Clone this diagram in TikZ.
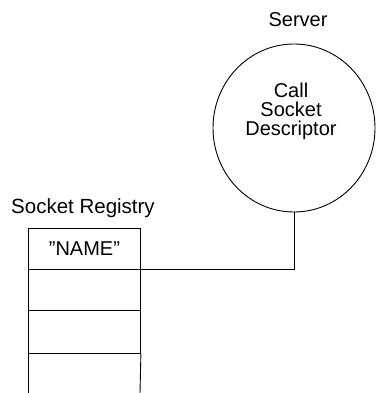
\documentclass[tikz,border=0pt]{standalone}
\usepackage{fontspec}
\setmainfont{Liberation Sans}
\usetikzlibrary{shapes.geometric}
\begin{document}
\begin{tikzpicture}[x=1pt,y=-1pt,line width=0.9pt,
  lbl/.style={font=\fontsize{20}{20}\selectfont,inner sep=0pt},
  rowbox/.style={draw,minimum width=112pt,minimum height=41pt,inner sep=0pt,anchor=north west,font=\fontsize{20}{20}\selectfont},
  srvshape/.style={draw,ellipse,minimum width=162pt,minimum height=168pt,inner sep=0pt}]
\useasboundingbox (0,0) rectangle (375,393);
\node[lbl] (srvlbl) at (298,20) {Server};
\node[srvshape] (srv) at (294,128) {};
\node[lbl,align=center,font=\fontsize{20}{19}\selectfont] (srvtxt) at (291,111) {Call\\Socket\\Descriptor};
\node[lbl,font=\fontsize{20.5}{20}\selectfont] (reglbl) at (83,208) {Socket Registry};
\node[rowbox] (r1) at (28,228) {\symbol{34}NAME\symbol{34}};
\node[rowbox] (r2) at (28,269) {};
\node[rowbox,minimum height=43pt] (r3) at (28,310) {};
\coordinate (bl) at (28,393);
\coordinate (br) at (140,393);
\draw (r3.south west) -- (bl);
\draw (r3.south east) -- (br);
\draw (r1.south east) -| (srv.south);
\end{tikzpicture}
\end{document}
